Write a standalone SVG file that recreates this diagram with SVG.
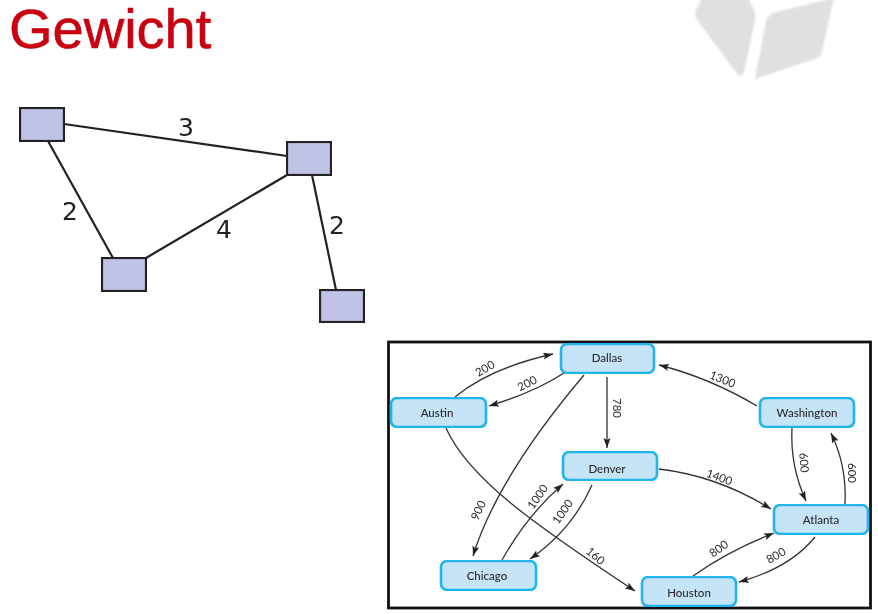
<svg xmlns="http://www.w3.org/2000/svg" width="878" height="614" viewBox="0 0 878 614">
<style>
.g{fill:#c0c3e6;stroke:#222;stroke-width:2.2}
.gl{stroke:#222;stroke-width:2.2;fill:none}
.gt{font:25px "DejaVu Sans",sans-serif;fill:#222;text-anchor:middle}
.n{fill:#c6e4f8;stroke:#22b4ec;stroke-width:2.6}
.e{fill:none;stroke:#333;stroke-width:1.3;marker-end:url(#a)}
.nt{font:11.5px Lato,"Open Sans",sans-serif;font-weight:500;fill:#2a2a2a;text-anchor:middle}
.et{font:11.5px Lato,"Open Sans",sans-serif;fill:#2a2a2a;text-anchor:middle}
</style>
<defs>
<marker id="a" markerUnits="userSpaceOnUse" markerWidth="11" markerHeight="8" refX="10" refY="3.5" orient="auto"><path d="M0 0L10 3.5L0 7L2 3.5Z" fill="#222"/></marker>
<filter id="soft" x="-2%" y="-2%" width="104%" height="104%"><feGaussianBlur stdDeviation="0.4"/></filter>
<filter id="soft2" x="-5%" y="-5%" width="110%" height="110%"><feGaussianBlur stdDeviation="0.8"/></filter>
</defs>
<rect width="878" height="614" fill="#fff"/>
<g id="logo" fill="#e0e0e0" filter="url(#soft2)">
<path d="M702 -2L748 -2L755 12Q756 16 755 20L744 72Q742 77 738 75L698 21Q695 17 695 12Z"/>
<path d="M776 12L834 -2L822 52Q821 56 817 58L755 79L766 21Q768 14 776 12Z"/>
</g>
<text id="title" x="9" y="48" font-family="'Liberation Sans',Arial,sans-serif" font-size="56" fill="#c80010" stroke="#c80010" stroke-width="0.6">Gewicht</text>
<g id="simple-edges" filter="url(#soft)">
<path class="gl" d="M64 124L287 156"/>
<path class="gl" d="M48 141L113 258"/>
<path class="gl" d="M146 258L287 175"/>
<path class="gl" d="M312 175L336 290"/>
<text class="gt" x="186" y="136">3</text>
<text class="gt" x="70" y="220">2</text>
<text class="gt" x="224" y="238">4</text>
<text class="gt" x="337" y="234">2</text>
</g>
<g id="s1"><rect class="g" x="20" y="108" width="44" height="33" filter="url(#soft)"/></g>
<g id="s2"><rect class="g" x="287" y="142" width="44" height="33" filter="url(#soft)"/></g>
<g id="s3"><rect class="g" x="102" y="258" width="44" height="33" filter="url(#soft)"/></g>
<g id="s4"><rect class="g" x="320" y="290" width="44" height="32" filter="url(#soft)"/></g>
<rect id="frame" x="388.5" y="342" width="482" height="266" fill="#fff" stroke="#111" stroke-width="2.8"/>
<g id="connectors" filter="url(#soft)">
<path class="e" d="M455 397Q490 368 553 354"/>
<path class="e" d="M564 373Q535 392 489 406"/>
<path class="e" d="M584 375Q497 478 473 556"/>
<path class="e" d="M607 377L607 448"/>
<path class="e" d="M446 428C468 478 535 525 635 591"/>
<path class="e" d="M502 560Q528 514 563 484"/>
<path class="e" d="M592 485Q572 530 530 559"/>
<path class="e" d="M757 406Q710 378 659 365"/>
<path class="e" d="M659 469Q718 476 771 509"/>
<path class="e" d="M792 428Q790 466 806 501"/>
<path class="e" d="M845 504Q847 466 831 433"/>
<path class="e" d="M693 576Q728 551 774 533"/>
<path class="e" d="M815 537Q790 568 739 582"/>
</g>
<g id="edge-labels" filter="url(#soft)">
<text class="et" transform="translate(487 372) rotate(-30)">200</text>
<text class="et" transform="translate(529 387) rotate(-27)">200</text>
<text class="et" transform="translate(613 408) rotate(90)">780</text>
<text class="et" transform="translate(482 512) rotate(-65)">900</text>
<text class="et" transform="translate(541 499) rotate(-55)">1000</text>
<text class="et" transform="translate(566 514) rotate(-55)">1000</text>
<text class="et" transform="translate(593 559) rotate(40)">160</text>
<text class="et" transform="translate(721 383) rotate(22)">1300</text>
<text class="et" transform="translate(718 481) rotate(20)">1400</text>
<text class="et" transform="translate(800 463) rotate(85)">600</text>
<text class="et" transform="translate(848 473) rotate(90)">600</text>
<text class="et" transform="translate(721 552) rotate(-35)">800</text>
<text class="et" transform="translate(778 559) rotate(-30)">800</text>
</g>
<g id="Dallas" filter="url(#soft)"><rect class="n" x="561" y="344" width="93" height="29" rx="6"/><text class="nt" x="607" y="362">Dallas</text></g>
<g id="Austin" filter="url(#soft)"><rect class="n" x="391" y="398" width="95" height="29" rx="6"/><text class="nt" x="437" y="417">Austin</text></g>
<g id="Denver" filter="url(#soft)"><rect class="n" x="563" y="452" width="94" height="28" rx="6"/><text class="nt" x="607" y="473">Denver</text></g>
<g id="Chicago" filter="url(#soft)"><rect class="n" x="441" y="561" width="95" height="29" rx="6"/><text class="nt" x="487" y="580">Chicago</text></g>
<g id="Houston" filter="url(#soft)"><rect class="n" x="642" y="577" width="94" height="29" rx="6"/><text class="nt" x="689" y="597">Houston</text></g>
<g id="Atlanta" filter="url(#soft)"><rect class="n" x="774" y="505" width="94" height="29" rx="6"/><text class="nt" x="821" y="524">Atlanta</text></g>
<g id="Washington" filter="url(#soft)"><rect class="n" x="760" y="398" width="94" height="29" rx="6"/><text class="nt" x="807" y="417">Washington</text></g>
</svg>
